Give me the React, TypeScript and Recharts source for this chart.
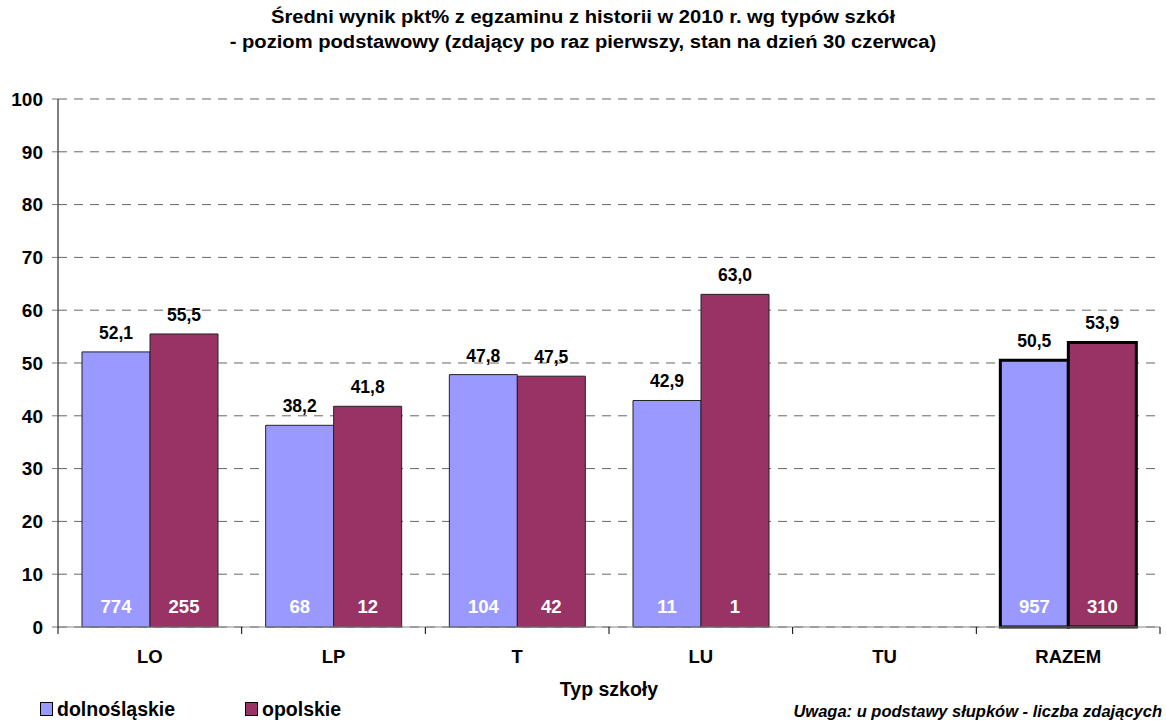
import React from "react";
import { BarChart, Bar, XAxis, YAxis, CartesianGrid, LabelList, Cell } from "recharts";

const categories = ["LO", "LP", "T", "LU", "TU", "RAZEM"];
const dolnoslaskie = [52.1, 38.2, 47.8, 42.9, null, 50.5];
const opolskie = [55.5, 41.8, 47.5, 63.0, null, 53.9];
const countsDolnoslaskie = [774, 68, 104, 11, null, 957];
const countsOpolskie = [255, 12, 42, 1, null, 310];
const yTicks = [0, 10, 20, 30, 40, 50, 60, 70, 80, 90, 100];

const BLUE = "#9999FF";
const MAROON = "#993366";
const FONT = "'Liberation Sans', Arial, sans-serif";

const W = 1166;
const H = 722;
const M = { top: 99, right: 6, bottom: 65, left: 0 };
const Y_W = 58;
const bandW = (W - M.left - M.right - Y_W) / categories.length;

const data = categories.map((name, i) => ({
  name,
  dol: dolnoslaskie[i],
  opo: opolskie[i],
  nDol: countsDolnoslaskie[i],
  nOpo: countsOpolskie[i],
}));

const fmt = (v: any) => (v == null ? "" : Number(v).toFixed(1).replace(".", ","));

const CountLabel = (props: any) => {
  const { x, y, width, height, value } = props;
  if (value == null) return null;
  return (
    <text x={x + width / 2} y={y + height - 14} textAnchor="middle" fill="#fff" fontWeight="bold" fontSize={18.5} fontFamily={FONT}>
      {value}
    </text>
  );
};

const XTick = (props: any) => {
  const { x, y, payload, index } = props;
  const left = x - bandW / 2;
  return (
    <g>
      <line x1={left} y1={y - 8} x2={left} y2={y - 1} stroke="#000" />
      {index === categories.length - 1 && (
        <line x1={x + bandW / 2} y1={y - 8} x2={x + bandW / 2} y2={y - 1} stroke="#000" />
      )}
      <text x={x} y={y + 28} textAnchor="middle" fontWeight="bold" fontSize={18.5} fontFamily={FONT} fill="#000">
        {payload.value}
      </text>
    </g>
  );
};

const legendItems = [
  { label: "dolnośląskie", color: BLUE, left: 40 },
  { label: "opolskie", color: MAROON, left: 245 },
];

export default function App() {
  return (
    <div style={{ position: "absolute", left: 0, top: 0, width: W, height: H, background: "#fff", fontFamily: FONT, color: "#000" }}>
      <div
        style={{
          position: "absolute",
          top: 5,
          left: 0,
          width: W,
          textAlign: "center",
          fontWeight: "bold",
          fontSize: 18,
          lineHeight: "25px",
          transform: "scaleX(1.12)",
          transformOrigin: "center",
        }}
      >
        Średni wynik pkt% z egzaminu z historii w 2010 r. wg typów szkół
        <br />- poziom podstawowy (zdający po raz pierwszy, stan na dzień 30 czerwca)
      </div>
      <BarChart width={W} height={H} data={data} margin={M} barGap={0} barCategoryGap={24}>
        <CartesianGrid horizontal vertical={false} stroke="#666" strokeDasharray="9 7" />
        <XAxis dataKey="name" height={30} stroke="#888" tickLine={false} tick={<XTick />} interval={0} />
        <YAxis
          width={Y_W}
          domain={[0, 100]}
          ticks={yTicks}
          interval={0}
          axisLine={{ stroke: "#000" }}
          tickLine={{ stroke: "#777" }}
          tickSize={6}
          tickMargin={9}
          tick={{ fill: "#000", fontWeight: "bold", fontSize: 19, fontFamily: FONT }}
        />
        <Bar dataKey="dol" fill={BLUE} isAnimationActive={false}>
          {data.map((d, i) => (
            <Cell key={i} stroke={d.name === "RAZEM" ? "#000" : "#222"} strokeWidth={d.name === "RAZEM" ? 3 : 1} />
          ))}
          <LabelList dataKey="dol" position="top" offset={13} formatter={fmt} fill="#000" fontWeight="bold" fontSize={17.5} fontFamily={FONT} />
          <LabelList dataKey="nDol" content={<CountLabel />} />
        </Bar>
        <Bar dataKey="opo" fill={MAROON} isAnimationActive={false}>
          {data.map((d, i) => (
            <Cell key={i} stroke={d.name === "RAZEM" ? "#000" : "#222"} strokeWidth={d.name === "RAZEM" ? 3 : 1} />
          ))}
          <LabelList dataKey="opo" position="top" offset={13} formatter={fmt} fill="#000" fontWeight="bold" fontSize={17.5} fontFamily={FONT} />
          <LabelList dataKey="nOpo" content={<CountLabel />} />
        </Bar>
      </BarChart>
      <div style={{ position: "absolute", left: Y_W, width: W - Y_W - M.right, top: 678, textAlign: "center", fontWeight: "bold", fontSize: 19.5 }}>
        Typ szkoły
      </div>
      {legendItems.map((it) => (
        <div
          key={it.label}
          style={{ position: "absolute", left: it.left, top: 697, display: "flex", alignItems: "center", fontWeight: "bold", fontSize: 19.5, lineHeight: "24px" }}
        >
          <span style={{ display: "inline-block", width: 11, height: 12, background: it.color, border: "1px solid #000", marginRight: 4 }} />
          {it.label}
        </div>
      ))}
      <div style={{ position: "absolute", right: 4, top: 699, fontWeight: "bold", fontStyle: "italic", fontSize: 16.5, lineHeight: "24px" }}>
        Uwaga: u podstawy słupków - liczba zdających
      </div>
    </div>
  );
}
